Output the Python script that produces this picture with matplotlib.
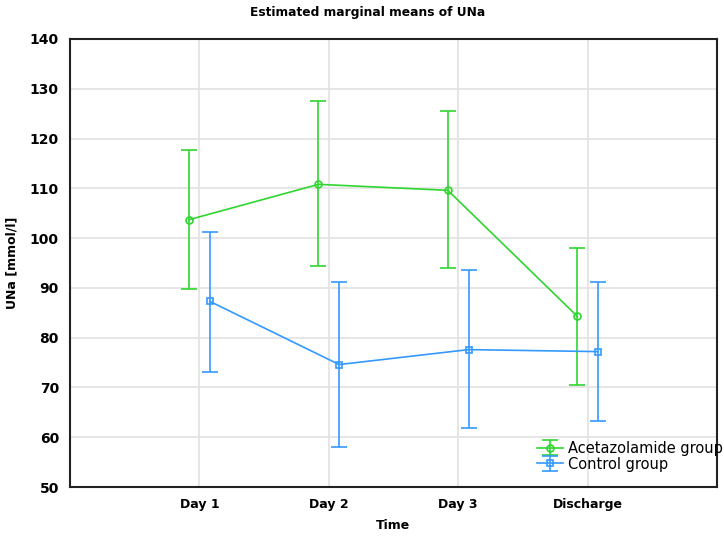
import numpy as np
import matplotlib
matplotlib.use("Agg")
import matplotlib.pyplot as plt

# Estimated marginal means of UNa with 95% CI
times = ["Day 1", "Day 2", "Day 3", "Discharge"]
aceta_mean = [103.7, 110.8, 109.6, 84.3]
aceta_low = [89.7, 94.3, 94.0, 70.4]
aceta_high = [117.7, 127.5, 125.6, 98.1]
ctrl_mean = [87.3, 74.6, 77.6, 77.2]
ctrl_low = [73.2, 58.1, 61.8, 63.3]
ctrl_high = [101.2, 91.2, 93.5, 91.1]

green = "#2fd62f"
blue = "#3399ff"

fig = plt.figure(figsize=(7.24, 5.37), dpi=100)
ax = fig.add_axes([0.0967, 0.0931, 0.8936, 0.8343])

x = np.arange(1, len(times) + 1)

def draw(offset, mean, low, high, color, marker, label):
    mean = np.array(mean)
    yerr = [mean - np.array(low), np.array(high) - mean]
    ax.errorbar(x + offset, mean, yerr=yerr, color=color, lw=1.2,
                marker=marker, ms=5, mfc="none", mec=color, mew=1.2,
                capsize=6, capthick=1.2, elinewidth=1.2, label=label, zorder=3)

draw(-0.08, aceta_mean, aceta_low, aceta_high, green, "o", "Acetazolamide group")
draw(0.08, ctrl_mean, ctrl_low, ctrl_high, blue, "s", "Control group")

ax.set_xlim(0, 5)
ax.set_ylim(50, 140)
ax.set_xticks(x)
ax.set_xticklabels(times, fontsize=9, fontweight="bold")
ax.set_yticks(np.arange(50, 141, 10))
ax.tick_params(axis="y", labelsize=10)
for t in ax.get_yticklabels():
    t.set_fontweight("bold")
ax.tick_params(length=0, pad=8)
ax.grid(True, color="#e4e4e4", lw=1.3)
ax.set_axisbelow(True)
for s in ax.spines.values():
    s.set_linewidth(1.5)
    s.set_color("#222222")

fig.text(0.508, 0.977, "Estimated marginal means of UNa", fontsize=8.8,
         fontweight="bold", ha="center", va="center")
ax.set_xlabel("Time", fontsize=9, fontweight="bold", labelpad=6)
ax.set_ylabel("UNa [mmol/l]", fontsize=9, fontweight="bold", labelpad=8)

leg = ax.legend(loc="lower right", bbox_to_anchor=(1.022, 0.015), frameon=False,
                fontsize=10.5, handlelength=1.8, handletextpad=0.3,
                labelspacing=0.05, borderaxespad=0.2)

fig.savefig("out.png", dpi=100)
